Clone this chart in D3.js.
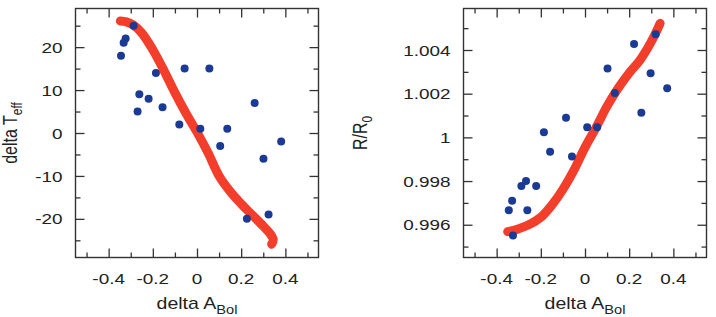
<!DOCTYPE html>
<html lang="en">
<head>
  <meta charset="UTF-8">
  <title>delta A_Bol</title>
  <script src="https://d3js.org/d3.v7.min.js"></script>
  <style>
    body { margin: 0; background: #fff; }
    text { font-family: "Liberation Sans", Arial, sans-serif; fill: #222; }
  </style>
</head>
<body>
  <div id="viz"></div>

  <script>
    // ---- data ----
    // left panel: delta T_eff vs delta A_Bol
    const teffObsX = [-0.344, -0.332, -0.323, -0.287, -0.186, -0.056, 0.056, -0.261, -0.219, -0.269,
                      -0.156, -0.080, 0.015, 0.137, 0.105, 0.261, 0.301, 0.381, 0.226, 0.324];
    const teffObsY = [18, 21, 22, 25, 14, 15, 15, 9, 8, 5,
                      6, 2, 1, 1, -3, 7, -6, -2, -20, -19];
    const teffModelX = [-0.347, -0.32, -0.29, -0.25, -0.20, -0.15, -0.10, -0.05, 0.00, 0.05,
                        0.10, 0.15, 0.20, 0.25, 0.30, 0.33, 0.345, 0.338];
    const teffModelY = [26.1, 25.9, 25.2, 23.3, 19.4, 14.6, 9.4, 4.6, 0.2, -4.6,
                        -10.0, -13.6, -16.5, -19.1, -21.7, -23.4, -24.8, -25.9];

    // right panel: R/R0 vs delta A_Bol
    const radObsX = [-0.345, -0.330, -0.326, -0.288, -0.267, -0.261, -0.221, -0.186, -0.158, -0.086,
                     -0.059, 0.010, 0.055, 0.102, 0.135, 0.222, 0.255, 0.297, 0.320, 0.372];
    const radObsY = [0.99666, 0.99710, 0.99551, 0.99777, 0.99800, 0.99666, 0.99777, 1.00023, 0.99934, 1.00090,
                     0.99912, 1.00046, 1.00046, 1.00315, 1.00203, 1.00428, 1.00113, 1.00293, 1.00472, 1.00225];
    const radModelX = [-0.350, -0.30, -0.25, -0.20, -0.15, -0.10, -0.05, 0.00, 0.05, 0.10,
                       0.15, 0.20, 0.25, 0.30, 0.34];
    const radModelY = [0.99568, 0.99582, 0.99602, 0.99634, 0.99690, 0.99762, 0.99850, 0.99954, 1.00045, 1.00143,
                       1.00225, 1.00295, 1.00355, 1.00438, 1.00522];

    // ticks
    const xMajor = [-0.4, -0.2, 0, 0.2, 0.4];
    const xMajorLabels = ["-0.4", "-0.2", "0", "0.2", "0.4"];
    const xMinor = [-0.5, -0.3, -0.1, 0.1, 0.3, 0.5];
    const teffMajor = [-20, -10, 0, 10, 20];
    const teffMajorLabels = ["-20", "-10", "0", "10", "20"];
    const teffMinor = [-25, -15, -5, 5, 15, 25];
    const radMajor = [0.996, 0.998, 1, 1.002, 1.004];
    const radMajorLabels = ["0.996", "0.998", "1", "1.002", "1.004"];
    const radMinor = [0.995, 0.997, 0.999, 1.001, 1.003, 1.005];

    // ---- layout ----
    const W = 716, H = 317;
    const plotTop = 8.5, plotH = 249, plotW = 243;
    const stretch = 1.22;   // the picture is a bit wider than tall
    const blue = "#1b3a94", red = "#f23e2a", ink = "#333";

    const svg = d3.select("#viz").append("svg")
      .attr("width", W)
      .attr("height", H);

    function panel(left, cfg) {
      const g = svg.append("g").attr("transform", `translate(${left},${plotTop})`);
      const x = d3.scaleLinear().domain([-0.55, 0.55]).range([0, plotW]);
      const y = d3.scaleLinear().domain(cfg.yDomain).range([plotH, 0]);

      // ticks on all four sides, pointing inward
      const axes = [
        [d3.axisBottom(x), `translate(0,${plotH})`, xMajor, xMinor],
        [d3.axisTop(x), null, xMajor, xMinor],
        [d3.axisLeft(y), null, cfg.yMajor, cfg.yMinor],
        [d3.axisRight(y), `translate(${plotW},0)`, cfg.yMajor, cfg.yMinor]
      ];
      axes.forEach(([ax, tr, major, minor]) => {
        [[major, 9], [minor, 5]].forEach(([vals, len]) => {
          const a = g.append("g")
            .attr("transform", tr)
            .call(ax.tickValues(vals).tickSize(-len).tickFormat(""));
          a.select(".domain").remove();
          a.selectAll("line").attr("stroke", ink).attr("stroke-width", 1.3);
        });
      });

      g.append("rect")
        .attr("width", plotW).attr("height", plotH)
        .attr("fill", "none").attr("stroke", ink).attr("stroke-width", 1.4);

      // tick labels
      g.selectAll(".xl").data(xMajor).enter().append("text")
        .attr("transform", d => `translate(${x(d)},${284 - plotTop}) scale(${stretch},1)`)
        .attr("text-anchor", "middle")
        .attr("font-size", 15.5)
        .text((d, i) => xMajorLabels[i]);
      g.selectAll(".yl").data(cfg.yMajor).enter().append("text")
        .attr("transform", d => `translate(-13,${y(d)}) scale(${stretch},1)`)
        .attr("text-anchor", "end")
        .attr("dy", "0.36em")
        .attr("font-size", 15.5)
        .text((d, i) => cfg.yLabels[i]);

      // model curve (thick red band)
      const line = d3.line()
        .x(d => x(d[0]))
        .y(d => y(d[1]))
        .curve(d3.curveCatmullRom);
      g.append("path")
        .datum(cfg.modelX.map((v, i) => [v, cfg.modelY[i]]))
        .attr("d", line)
        .attr("fill", "none")
        .attr("stroke", red)
        .attr("stroke-width", 9)
        .attr("stroke-linecap", "round")
        .attr("stroke-linejoin", "round");

      // observed points
      g.selectAll(".dot")
        .data(cfg.obsX.map((v, i) => [v, cfg.obsY[i]]))
        .enter().append("circle")
          .attr("cx", d => x(d[0]))
          .attr("cy", d => y(d[1]))
          .attr("r", 4)
          .attr("fill", blue);

      // x axis title
      const xt = g.append("text")
        .attr("transform", `translate(${plotW / 2},${309 - plotTop}) scale(${stretch},1)`)
        .attr("text-anchor", "middle")
        .attr("font-size", 16);
      xt.append("tspan").text("delta A");
      xt.append("tspan").attr("font-size", 12).attr("dy", 5).text("Bol");

      // y axis title
      const yt = g.append("text")
        .attr("transform", `translate(${cfg.yTitleX - left},${plotH / 2}) scale(${stretch},1) rotate(-90)`)
        .attr("text-anchor", "middle")
        .attr("font-size", 16);
      cfg.yTitle.forEach(([s, sub]) => {
        const t = yt.append("tspan").text(s);
        if (sub) t.attr("font-size", 12).attr("dy", 4);
      });
    }

    panel(75.5, {
      yDomain: [-29, 29],
      yMajor: teffMajor, yMinor: teffMinor, yLabels: teffMajorLabels,
      obsX: teffObsX, obsY: teffObsY, modelX: teffModelX, modelY: teffModelY,
      yTitle: [["delta T", false], ["eff", true]], yTitleX: 17
    });

    panel(463.5, {
      yDomain: [0.9945, 1.0059],
      yMajor: radMajor, yMinor: radMinor, yLabels: radMajorLabels,
      obsX: radObsX, obsY: radObsY, modelX: radModelX, modelY: radModelY,
      yTitle: [["R/R", false], ["0", true]], yTitleX: 367
    });
  </script>
</body>
</html>
